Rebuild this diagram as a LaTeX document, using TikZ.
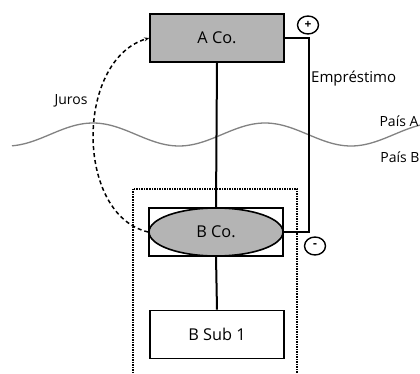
\documentclass[tikz,border=0pt]{standalone}
\usepackage{fontspec}
\setmainfont{Open Sans}
\usetikzlibrary{shapes.geometric,arrows.meta}
\definecolor{boxgray}{RGB}{180,180,180}
\definecolor{wavegray}{RGB}{130,130,130}
\tikzset{
  firm/.style={draw=black, line width=1.6pt, rectangle, minimum width=134pt, minimum height=48pt, inner sep=0pt, font=\fontsize{16.3}{18}\selectfont},
  oval/.style={draw=black, line width=1.6pt, ellipse, fill=boxgray, minimum width=134pt, minimum height=48pt, inner sep=0pt, font=\fontsize{16.3}{18}\selectfont},
  sign/.style={draw=black, line width=1.4pt, ellipse, minimum width=21pt, minimum height=18pt, inner sep=0pt, font=\fontsize{12}{13}\selectfont\bfseries},
  lbl/.style={font=\fontsize{14}{16}\selectfont, inner sep=0pt},
  link/.style={line width=2pt},
  loan/.style={line width=1.2pt},
  interest/.style={line width=1.5pt, dash pattern=on 4pt off 3pt, -{Stealth[length=5pt,width=4pt]}},
  region/.style={line width=1.5pt, densely dotted},
  wave/.style={line width=1.3pt, wavegray}
}
\begin{document}
\begin{tikzpicture}[x=1pt,y=-1pt]
\clip (0,0) rectangle (420,374);
\fill[white] (0,0) rectangle (420,374);
% country border
\draw[wave] plot[domain=12:420, samples=120, smooth] (\x, {134.5-11.5*cos((\x-93)/172*360)});
% dotted region of country B group
\draw[region] (133,189) rectangle (297,390);
% nodes
\node[firm, fill=boxgray] (A) at (217,38) {A Co.};
\node[firm, fill=white] (Brect) at (216,232) {};
\node[oval] (Bell) at (216,232) {B Co.};
\node[firm, fill=white] (Bsub) at (217,334.5) {B Sub 1};
\node[sign] (plus) at (308,25) {+};
\node[sign] (minus) at (315,246) {-};
% labels
\node[lbl] (juros) at (71,101) {Juros};
\node[lbl, anchor=west, font=\fontsize{15}{17}\selectfont] (empr) at (311,79) {Empréstimo};
\node[lbl] (paisA) at (399,121) {País A};
\node[lbl] (paisB) at (400,157) {País B};
% connectors
\draw[link] (A.south) -- (Brect.north);
\draw[link] (Brect.south) -- (Bsub.north);
\coordinate (c1) at (309,38);
\coordinate (c2) at (309,232);
\draw[loan] (A.east) -- (c1) -- (c2) -- (Bell.east);
\draw[interest] (Bell.west) .. controls (75,215) and (75,60) .. (A.west);
\end{tikzpicture}
\end{document}
